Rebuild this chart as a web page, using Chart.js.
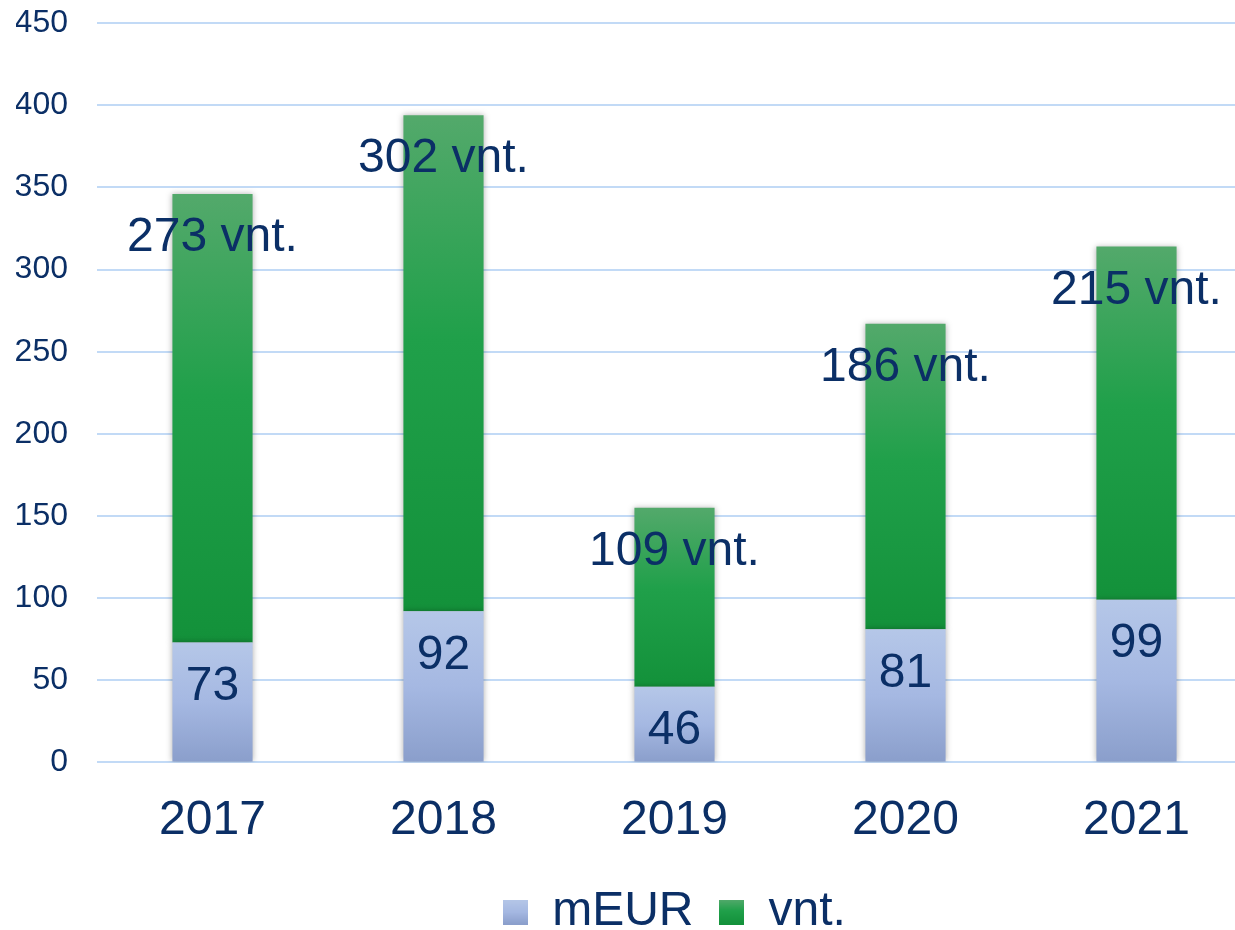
<!DOCTYPE html>
<html>
<head>
<meta charset="utf-8">
<script src="https://cdn.jsdelivr.net/npm/chart.js@4.4.1/dist/chart.umd.min.js"></script>
<style>
    html, body { margin: 0; padding: 0; background: #fff; overflow: hidden; }
    #wrap { width: 1252px; height: 975px; margin-top: -25px; }
</style>
</head>
<body>
<div id="wrap"><canvas id="myChart"></canvas></div>
<script>
const years = ['2017', '2018', '2019', '2020', '2021'];
const mEUR = [73, 92, 46, 81, 99];
const vnt = [273, 302, 109, 186, 215];
const yTicks = [0, 50, 100, 150, 200, 250, 300, 350, 400, 450];

const textColor = '#0b2f66';
const fontFamily = '"Liberation Sans", Arial, sans-serif';

const blueStops = [[0, '#b5c7e8'], [0.5, '#a5b8e2'], [1, '#8a9ecb']];
const greenStops = [[0, '#53a96b'], [0.45, '#20a04a'], [1, '#13913a']];

// gradient for one bar segment, from its top to its bottom
function barGradient(context, stops, fallback) {
    const chart = context.chart;
    const i = context.dataIndex;
    if (!chart.chartArea || i === undefined || !chart.scales.y) return fallback;
    const y = chart.scales.y;
    let from = 0, to = mEUR[i];
    if (context.datasetIndex === 1) {
        from = mEUR[i];
        to = mEUR[i] + vnt[i];
    }
    const top = y.getPixelForValue(to);
    const bottom = y.getPixelForValue(from);
    if (!isFinite(top) || !isFinite(bottom)) return fallback;
    const g = chart.ctx.createLinearGradient(0, top, 0, bottom);
    stops.forEach(s => g.addColorStop(s[0], s[1]));
    return g;
}

// small square with gradient for legend
function legendSwatch(stops) {
    const cv = document.createElement('canvas');
    cv.width = 25;
    cv.height = 25;
    const c = cv.getContext('2d');
    const g = c.createLinearGradient(0, 0, 0, 25);
    stops.forEach(s => g.addColorStop(s[0], s[1]));
    c.fillStyle = g;
    c.fillRect(0, 0, 25, 25);
    return cv;
}

const shadowPlugin = {
    id: 'barShadow',
    beforeDatasetsDraw(chart) {
        const c = chart.ctx;
        c.save();
        c.shadowColor = 'rgba(0, 0, 0, 0.3)';
        c.shadowBlur = 6;
        c.shadowOffsetX = 0;
        c.shadowOffsetY = 0;
    },
    afterDatasetsDraw(chart) {
        chart.ctx.restore();
    }
};

const labelPlugin = {
    id: 'barLabels',
    afterDatasetsDraw(chart) {
        const c = chart.ctx;
        c.save();
        c.font = '48px ' + fontFamily;
        c.fillStyle = textColor;
        c.textAlign = 'center';
        c.textBaseline = 'middle';
        chart.data.datasets.forEach((ds, di) => {
            chart.getDatasetMeta(di).data.forEach((bar, i) => {
                const txt = di === 0 ? String(mEUR[i]) : vnt[i] + ' vnt.';
                c.fillText(txt, bar.x, bar.y + 44);
            });
        });
        c.restore();
    }
};

const ctx = document.getElementById('myChart').getContext('2d');

const myChart = new Chart(ctx, {
    type: 'bar',
    data: {
        labels: years,
        datasets: [
            {
                label: 'mEUR',
                data: mEUR,
                backgroundColor: (c) => barGradient(c, blueStops, '#a3b5de'),
                categoryPercentage: 1,
                barPercentage: 0.347
            },
            {
                label: 'vnt.',
                data: vnt,
                backgroundColor: (c) => barGradient(c, greenStops, '#2a9c4a'),
                categoryPercentage: 1,
                barPercentage: 0.347
            }
        ]
    },
    options: {
        responsive: true,
        maintainAspectRatio: false,
        animation: false,
        layout: {
            padding: { left: 16, right: 0, top: 6, bottom: 4 }
        },
        plugins: {
            legend: {
                position: 'bottom',
                fullSize: false,
                labels: {
                    usePointStyle: true,
                    boxWidth: 25,
                    boxHeight: 25,
                    padding: 26,
                    color: textColor,
                    font: { size: 48, family: fontFamily },
                    generateLabels(chart) {
                        const swatches = [legendSwatch(blueStops), legendSwatch(greenStops)];
                        return chart.data.datasets.map((ds, i) => ({
                            text: ds.label,
                            fillStyle: '#fff',
                            strokeStyle: '#fff',
                            lineWidth: 0,
                            pointStyle: swatches[i],
                            fontColor: textColor,
                            datasetIndex: i,
                            hidden: false
                        }));
                    }
                }
            },
            tooltip: { enabled: false }
        },
        scales: {
            x: {
                stacked: true,
                afterFit(scale) {
                    scale.height = scale.height - 10;
                },
                grid: { display: false },
                border: { display: false },
                ticks: {
                    color: textColor,
                    padding: 22,
                    font: { size: 48, family: fontFamily }
                }
            },
            y: {
                stacked: true,
                min: 0,
                max: 450,
                afterBuildTicks(scale) {
                    scale.ticks = yTicks.map(v => ({ value: v }));
                },
                afterFit(scale) {
                    scale.width = 81;
                },
                grid: {
                    color: '#c2daf6',
                    lineWidth: 2,
                    drawTicks: false
                },
                border: { display: false },
                ticks: {
                    color: textColor,
                    padding: 29,
                    font: { size: 32, family: fontFamily }
                }
            }
        }
    },
    plugins: [shadowPlugin, labelPlugin]
});
</script>
</body>
</html>
